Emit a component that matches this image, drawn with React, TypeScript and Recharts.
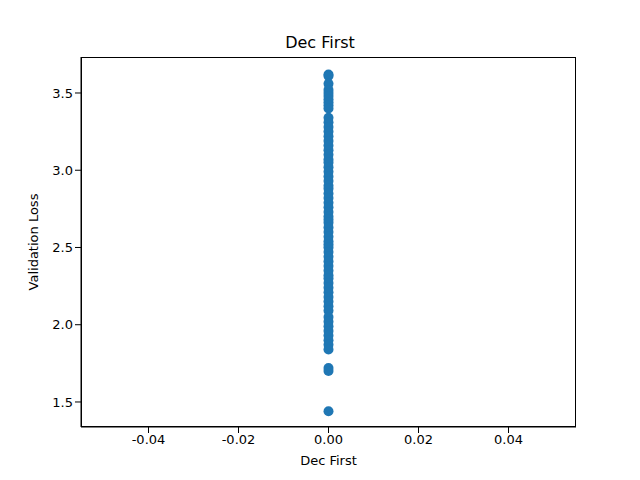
import { ScatterChart, Scatter, XAxis, YAxis } from "recharts";

const lossValues = [
  3.62, 3.61, 3.56, 3.52, 3.5, 3.48, 3.46, 3.44, 3.42, 3.4, 3.34, 3.31, 3.28, 3.25, 3.22,
  3.19, 3.16, 3.13, 3.1, 3.07, 3.05, 3.02, 2.99, 2.96, 2.93, 2.9, 2.88, 2.85, 2.82, 2.79,
  2.76, 2.73, 2.7, 2.68, 2.66, 2.63, 2.6, 2.57, 2.54, 2.52, 2.5, 2.47, 2.44, 2.41, 2.38,
  2.35, 2.32, 2.3, 2.27, 2.24, 2.21, 2.18, 2.15, 2.12, 2.09, 2.05, 2.02, 1.99, 1.96, 1.93,
  1.9, 1.87, 1.84, 1.72, 1.7, 1.44,
];
const xTicks = [-0.04, -0.02, 0, 0.02, 0.04];
const yTicks = [1.5, 2.0, 2.5, 3.0, 3.5];

const points = lossValues.map((y) => ({ x: 0, y }));
const font = "DejaVu Sans, sans-serif";

export default function App() {
  return (
    <div style={{ position: "absolute", top: 0, left: 0, width: 640, height: 480, background: "#fff", fontFamily: font }}>
      <div style={{ position: "absolute", top: 33, width: 640, textAlign: "center", fontSize: 16, color: "#000" }}>
        Dec First
      </div>
      {/* frame around the plot area, like matplotlib's spines */}
      <div style={{ position: "absolute", left: 81, top: 57, width: 495, height: 370, border: "1px solid #000", boxSizing: "border-box" }} />
      <ScatterChart width={640} height={480} margin={{ top: 57, right: 64, bottom: 23, left: 21 }} style={{ position: "absolute", top: 0, left: 0 }}>
        <XAxis
          type="number"
          dataKey="x"
          domain={[-0.055, 0.055]}
          ticks={xTicks}
          tickFormatter={(v) => v.toFixed(2)}
          height={30}
          stroke="#000"
          tick={{ fill: "#000", fontSize: 13, fontFamily: font }}
          label={{ value: "Dec First", position: "insideBottom", offset: -8, fill: "#000", fontSize: 13, fontFamily: font }}
        />
        <YAxis
          type="number"
          dataKey="y"
          domain={[1.338, 3.733]}
          ticks={yTicks}
          tickFormatter={(v) => v.toFixed(1)}
          width={60}
          stroke="#000"
          tick={{ fill: "#000", fontSize: 13, fontFamily: font }}
          label={{ value: "Validation Loss", angle: -90, position: "insideLeft", offset: 12, fill: "#000", fontSize: 13, fontFamily: font, style: { textAnchor: "middle" } }}
        />
        <Scatter data={points} fill="#1f77b4" isAnimationActive={false} shape={(p: any) => <circle cx={p.cx} cy={p.cy} r={5} fill="#1f77b4" />} />
      </ScatterChart>
    </div>
  );
}
